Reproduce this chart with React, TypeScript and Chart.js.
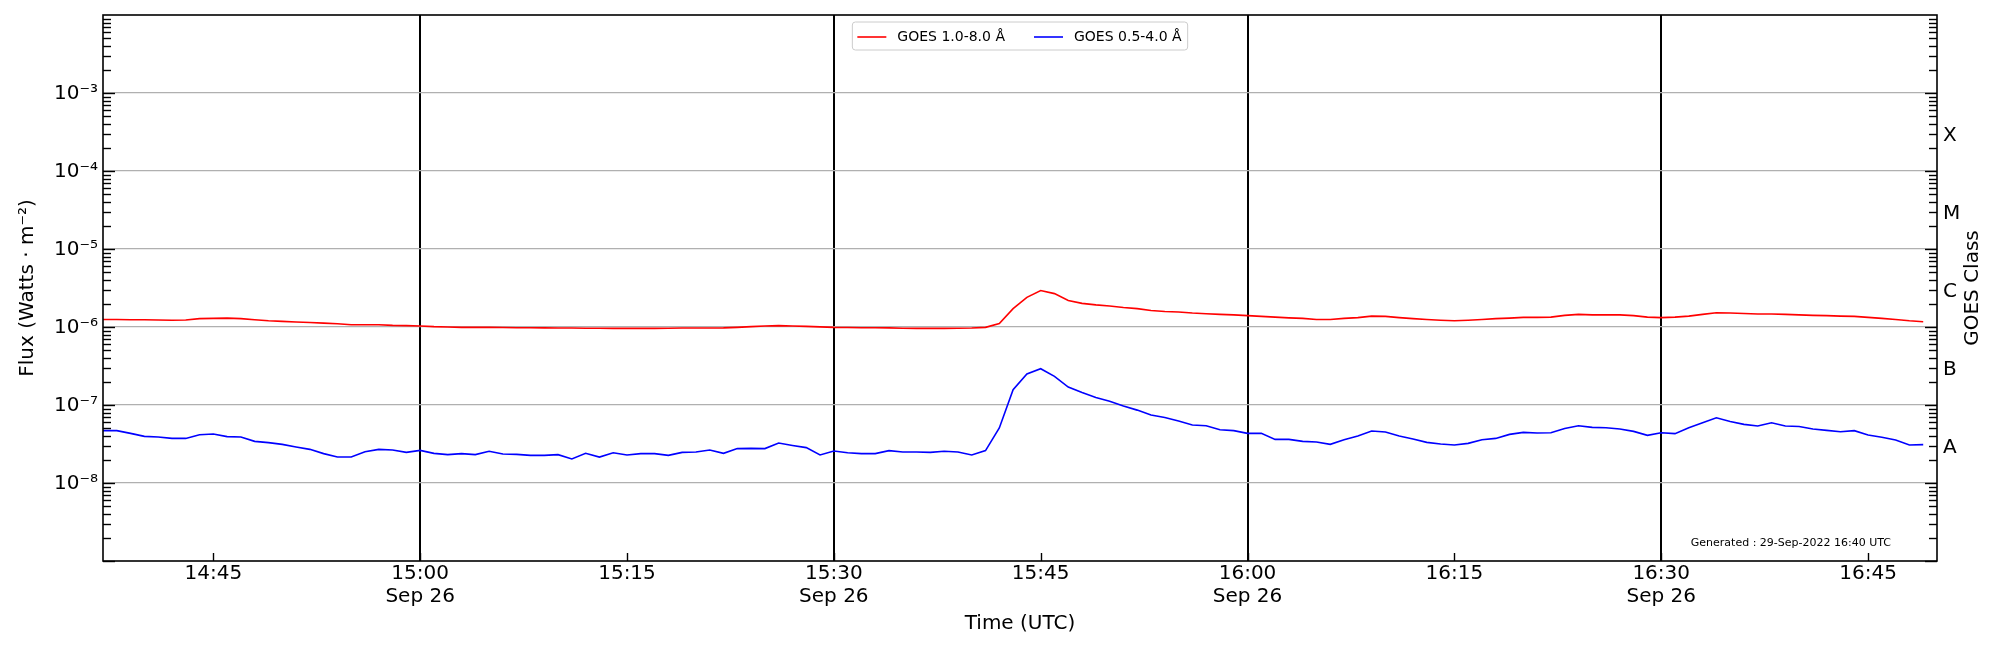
import { useEffect, useRef } from "react";
import { Chart, registerables } from "chart.js";

Chart.register(...registerables);

// GOES XRS one-minute averages, 26 Sep 2022, first sample 14:37 UTC
const START_MINUTE = 14 * 60 + 37;
const X_MIN = 14 * 60 + 37;
const X_MAX = 16 * 60 + 50;

// 1.0-8.0 Å channel (W/m²)
const XRS_LONG = [
  1.25e-6, 1.25e-6, 1.24e-6, 1.24e-6, 1.23e-6, 1.22e-6, 1.23e-6, 1.28e-6, 1.29e-6, 1.3e-6, // 14:37
  1.28e-6, 1.24e-6, 1.2e-6, 1.18e-6, 1.16e-6, 1.14e-6, 1.12e-6, 1.1e-6, 1.07e-6, 1.07e-6, // 14:47
  1.07e-6, 1.05e-6, 1.04e-6, 1.03e-6, 1.01e-6, 1.0e-6, 9.9e-7, 9.9e-7, 9.9e-7, 9.85e-7, // 14:57
  9.8e-7, 9.8e-7, 9.75e-7, 9.7e-7, 9.7e-7, 9.65e-7, 9.65e-7, 9.6e-7, 9.6e-7, 9.6e-7, // 15:07
  9.6e-7, 9.65e-7, 9.7e-7, 9.7e-7, 9.7e-7, 9.75e-7, 9.9e-7, 1.01e-6, 1.03e-6, 1.04e-6, // 15:17
  1.03e-6, 1.02e-6, 1.005e-6, 9.9e-7, 9.85e-7, 9.8e-7, 9.8e-7, 9.75e-7, 9.65e-7, 9.6e-7, // 15:27
  9.6e-7, 9.6e-7, 9.65e-7, 9.7e-7, 9.9e-7, 1.11e-6, 1.72e-6, 2.4e-6, 2.94e-6, 2.68e-6, // 15:37
  2.19e-6, 2.01e-6, 1.92e-6, 1.86e-6, 1.78e-6, 1.72e-6, 1.63e-6, 1.58e-6, 1.56e-6, 1.51e-6, // 15:47
  1.48e-6, 1.45e-6, 1.43e-6, 1.4e-6, 1.37e-6, 1.34e-6, 1.31e-6, 1.29e-6, 1.25e-6, 1.25e-6, // 15:57
  1.29e-6, 1.32e-6, 1.38e-6, 1.37e-6, 1.32e-6, 1.28e-6, 1.25e-6, 1.22e-6, 1.2e-6, 1.22e-6, // 16:07
  1.25e-6, 1.28e-6, 1.3e-6, 1.33e-6, 1.33e-6, 1.34e-6, 1.41e-6, 1.45e-6, 1.43e-6, 1.43e-6, // 16:17
  1.43e-6, 1.4e-6, 1.34e-6, 1.32e-6, 1.34e-6, 1.38e-6, 1.45e-6, 1.52e-6, 1.51e-6, 1.49e-6, // 16:27
  1.47e-6, 1.47e-6, 1.45e-6, 1.43e-6, 1.41e-6, 1.4e-6, 1.38e-6, 1.37e-6, 1.33e-6, 1.29e-6, // 16:37
  1.25e-6, 1.2e-6, 1.17e-6, // 16:47
];

// 0.5-4.0 Å channel (W/m²)
const XRS_SHORT = [
  4.69e-8, 4.69e-8, 4.33e-8, 3.96e-8, 3.89e-8, 3.73e-8, 3.73e-8, 4.16e-8, 4.25e-8, 3.93e-8, // 14:37
  3.89e-8, 3.42e-8, 3.29e-8, 3.13e-8, 2.9e-8, 2.7e-8, 2.38e-8, 2.15e-8, 2.15e-8, 2.52e-8, // 14:47
  2.7e-8, 2.65e-8, 2.47e-8, 2.62e-8, 2.4e-8, 2.31e-8, 2.38e-8, 2.31e-8, 2.55e-8, 2.35e-8, // 14:57
  2.33e-8, 2.26e-8, 2.26e-8, 2.31e-8, 2.03e-8, 2.4e-8, 2.15e-8, 2.44e-8, 2.29e-8, 2.38e-8, // 15:07
  2.38e-8, 2.26e-8, 2.47e-8, 2.5e-8, 2.65e-8, 2.4e-8, 2.76e-8, 2.78e-8, 2.76e-8, 3.26e-8, // 15:17
  3.03e-8, 2.84e-8, 2.29e-8, 2.57e-8, 2.44e-8, 2.38e-8, 2.38e-8, 2.6e-8, 2.5e-8, 2.5e-8, // 15:27
  2.47e-8, 2.55e-8, 2.5e-8, 2.29e-8, 2.6e-8, 5.07e-8, 1.57e-7, 2.5e-7, 2.92e-7, 2.33e-7, // 15:37
  1.7e-7, 1.45e-7, 1.25e-7, 1.12e-7, 9.7e-8, 8.6e-8, 7.44e-8, 6.93e-8, 6.23e-8, 5.54e-8, // 15:47
  5.43e-8, 4.82e-8, 4.69e-8, 4.33e-8, 4.33e-8, 3.62e-8, 3.62e-8, 3.42e-8, 3.36e-8, 3.13e-8, // 15:57
  3.59e-8, 4.0e-8, 4.65e-8, 4.51e-8, 4.0e-8, 3.66e-8, 3.32e-8, 3.16e-8, 3.07e-8, 3.22e-8, // 16:07
  3.59e-8, 3.73e-8, 4.2e-8, 4.46e-8, 4.38e-8, 4.4e-8, 5.0e-8, 5.43e-8, 5.17e-8, 5.1e-8, // 16:17
  4.92e-8, 4.59e-8, 4.08e-8, 4.4e-8, 4.29e-8, 5.1e-8, 5.93e-8, 6.87e-8, 6.16e-8, 5.64e-8, // 16:27
  5.37e-8, 5.93e-8, 5.37e-8, 5.3e-8, 4.92e-8, 4.73e-8, 4.55e-8, 4.69e-8, 4.12e-8, 3.85e-8, // 16:37
  3.56e-8, 3.07e-8, 3.1e-8, // 16:47
];

const SERIES_LABELS = ["GOES 1.0-8.0 Å", "GOES 0.5-4.0 Å"];

const X_TICKS = [885, 900, 915, 930, 945, 960, 975, 990, 1005];
const X_TICK_LABELS = [
  ["14:45"],
  ["15:00", "Sep 26"],
  ["15:15"],
  ["15:30", "Sep 26"],
  ["15:45"],
  ["16:00", "Sep 26"],
  ["16:15"],
  ["16:30", "Sep 26"],
  ["16:45"],
];

const FLUX_TICKS = [1e-8, 1e-7, 1e-6, 1e-5, 1e-4, 1e-3];
const FLUX_TICK_LABELS = ["10⁻⁸", "10⁻⁷", "10⁻⁶", "10⁻⁵", "10⁻⁴", "10⁻³"];

const CLASS_TICKS = [3.162e-8, 3.162e-7, 3.162e-6, 3.162e-5, 3.162e-4];
const CLASS_LABELS = ["A", "B", "C", "M", "X"];

const GENERATED = "Generated : 29-Sep-2022 16:40 UTC";

const FONT = '"DejaVu Sans", "Liberation Sans", sans-serif';

const goesDecor = {
  id: "goesDecor",
  afterDatasetsDraw(chart: any) {
    const { ctx, chartArea: ca, scales } = chart;
    const y = scales.y;
    const x = scales.x;
    const seg = (x1: number, y1: number, x2: number, y2: number) => {
      ctx.beginPath();
      ctx.moveTo(x1, y1);
      ctx.lineTo(x2, y2);
      ctx.stroke();
    };
    ctx.save();
    ctx.strokeStyle = "#000";
    ctx.lineWidth = 1.4;

    // inward log ticks on both sides
    for (let e = -9; e <= -3; e++) {
      for (let m = 1; m <= 9; m++) {
        const v = m * Math.pow(10, e);
        if (v < 1e-9 * 0.999 || v > 1e-2 * 1.001) continue;
        const py = Math.round(y.getPixelForValue(v)) + 0.5;
        const len = m === 1 ? 12 : 8;
        seg(ca.left, py, ca.left + len, py);
        seg(ca.right, py, ca.right - len, py);
      }
    }
    X_TICKS.forEach((t) => {
      const px = Math.round(x.getPixelForValue(t)) + 0.5;
      seg(px, ca.bottom, px, ca.bottom - 8);
    });

    // frame
    ctx.lineWidth = 1.6;
    ctx.strokeRect(ca.left, ca.top, ca.right - ca.left, ca.bottom - ca.top);

    // legend
    ctx.font = `14px ${FONT}`;
    const items = chart.data.datasets.map((d: any) => ({
      text: d.label,
      color: d.borderColor,
      w: ctx.measureText(d.label).width,
    }));
    const sample = 29, gap = 11, itemGap = 29, padL = 5, padR = 6;
    const total =
      padL + padR + itemGap * (items.length - 1) +
      items.reduce((s: number, it: any) => s + sample + gap + it.w, 0);
    const lx = (ca.left + ca.right) / 2 - total / 2;
    const ly = ca.top + 7;
    const lh = 28;
    ctx.beginPath();
    ctx.roundRect(lx, ly, total, lh, 3);
    ctx.fillStyle = "rgba(255,255,255,0.8)";
    ctx.fill();
    ctx.strokeStyle = "#cccccc";
    ctx.lineWidth = 1;
    ctx.stroke();
    let cx = lx + padL;
    const cy = ly + lh / 2 + 1;
    ctx.textBaseline = "middle";
    ctx.textAlign = "left";
    items.forEach((it: any) => {
      ctx.strokeStyle = it.color;
      ctx.lineWidth = 1.6;
      seg(cx, cy, cx + sample, cy);
      ctx.fillStyle = "#000";
      ctx.fillText(it.text, cx + sample + gap, cy);
      cx += sample + gap + it.w + itemGap;
    });

    // right axis title
    ctx.font = `20px ${FONT}`;
    ctx.fillStyle = "#000";
    ctx.textAlign = "center";
    ctx.translate(ca.right + 36, (ca.top + ca.bottom) / 2);
    ctx.rotate(-Math.PI / 2);
    ctx.fillText("GOES Class", 0, 0);
    ctx.setTransform(1, 0, 0, 1, 0, 0);

    ctx.restore();
    ctx.save();
    ctx.font = `11px ${FONT}`;
    ctx.fillStyle = "#000";
    ctx.textAlign = "right";
    ctx.textBaseline = "middle";
    ctx.fillText(GENERATED, ca.right - 46, ca.bottom - 18);
    ctx.restore();
  },
};

export default function App() {
  const canvasRef = useRef<HTMLCanvasElement | null>(null);
  const chartRef = useRef<Chart | null>(null);

  useEffect(() => {
    document.body.style.margin = "0";
    if (chartRef.current) chartRef.current.destroy();

    const times = XRS_LONG.map((_, i) => START_MINUTE + i);
    const tickFont = { family: FONT, size: 20, lineHeight: 1.15 };
    // small line height keeps the y labels from padding the plot top
    const yTickFont = { family: FONT, size: 20, lineHeight: 0.8 };

    chartRef.current = new Chart(canvasRef.current as HTMLCanvasElement, {
      type: "line",
      data: {
        datasets: [
          {
            label: SERIES_LABELS[0],
            data: times.map((t, i) => ({ x: t, y: XRS_LONG[i] })),
            borderColor: "#ff0000",
            backgroundColor: "#ff0000",
            borderWidth: 1.6,
            pointRadius: 0,
            tension: 0,
            yAxisID: "y",
          },
          {
            label: SERIES_LABELS[1],
            data: times.map((t, i) => ({ x: t, y: XRS_SHORT[i] })),
            borderColor: "#0000ff",
            backgroundColor: "#0000ff",
            borderWidth: 1.6,
            pointRadius: 0,
            tension: 0,
            yAxisID: "y",
          },
        ],
      },
      options: {
        animation: false,
        responsive: true,
        maintainAspectRatio: false,
        layout: { padding: { top: 15, left: 0, right: 0, bottom: 0 } },
        plugins: {
          legend: { display: false },
          tooltip: { enabled: false },
        },
        scales: {
          x: {
            type: "linear",
            min: X_MIN,
            max: X_MAX,
            afterBuildTicks: (s: any) => {
              s.ticks = X_TICKS.map((v) => ({ value: v }));
            },
            afterFit: (s: any) => {
              s.height = 89;
            },
            ticks: {
              autoSkip: false,
              maxRotation: 0,
              padding: 1,
              color: "#000",
              font: tickFont,
              callback: (_v: any, i: number) => X_TICK_LABELS[i],
            },
            grid: {
              drawTicks: false,
              lineWidth: 2,
              color: (c: any) =>
                X_TICK_LABELS[c.index] && X_TICK_LABELS[c.index].length > 1 ? "#000" : "rgba(0,0,0,0)",
            },
            border: { display: false },
            title: {
              display: true,
              text: "Time (UTC)",
              color: "#000",
              font: { family: FONT, size: 20 },
              padding: { top: 0, bottom: 14 },
            },
          },
          y: {
            type: "logarithmic",
            position: "left",
            min: 1e-9,
            max: 1e-2,
            afterBuildTicks: (s: any) => {
              s.ticks = FLUX_TICKS.map((v) => ({ value: v }));
            },
            afterFit: (s: any) => {
              s.width = 103;
            },
            ticks: {
              padding: 5,
              labelOffset: 1,
              color: "#000",
              font: yTickFont,
              callback: (_v: any, i: number) => FLUX_TICK_LABELS[i],
            },
            grid: { drawTicks: false, color: "#b0b0b0", lineWidth: 1.3 },
            border: { display: false },
            title: {
              display: true,
              text: "Flux (Watts · m⁻²)",
              color: "#000",
              font: { family: FONT, size: 20 },
              padding: { top: 16, bottom: 0 },
            },
          },
          y2: {
            type: "logarithmic",
            position: "right",
            min: 1e-9,
            max: 1e-2,
            afterBuildTicks: (s: any) => {
              s.ticks = CLASS_TICKS.map((v) => ({ value: v }));
            },
            afterFit: (s: any) => {
              s.width = 63;
            },
            ticks: {
              padding: 6,
              labelOffset: 4,
              color: "#000",
              font: yTickFont,
              callback: (_v: any, i: number) => CLASS_LABELS[i],
            },
            grid: { display: false, drawTicks: false },
            border: { display: false },
          },
        },
      },
      plugins: [goesDecor],
    });

    return () => {
      if (chartRef.current) {
        chartRef.current.destroy();
        chartRef.current = null;
      }
    };
  }, []);

  return (
    <div style={{ width: 2000, height: 650, position: "relative", background: "#fff" }}>
      <canvas ref={canvasRef} />
    </div>
  );
}
